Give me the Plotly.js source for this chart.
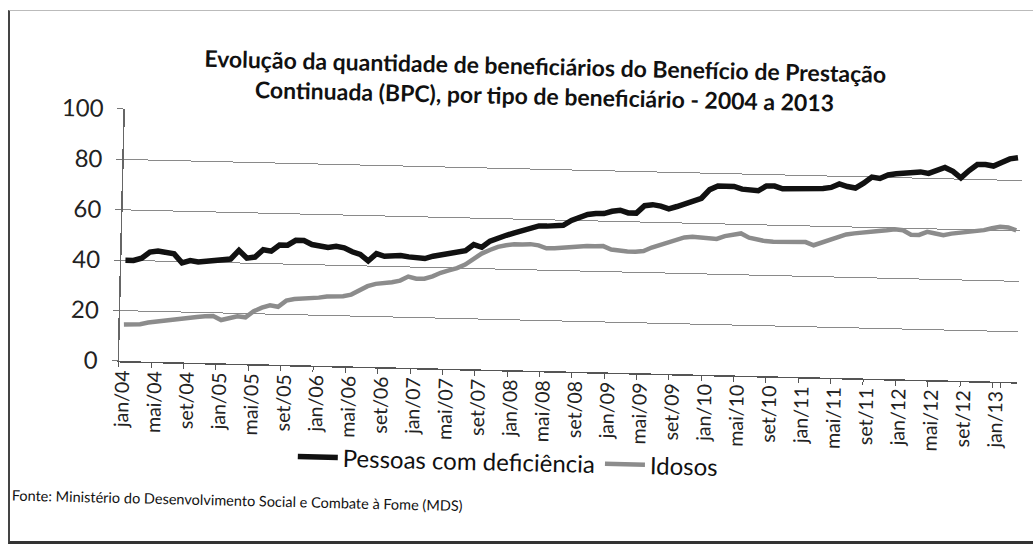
<!DOCTYPE html>
<html><head><meta charset="utf-8">
<script src="https://cdn.plot.ly/plotly-3.0.1.min.js"></script>
<style>
html,body{margin:0;padding:0;background:#fff;overflow:hidden;}
#frame{position:absolute;left:8px;top:10px;width:1040px;height:530px;border-left:2px solid #444;border-bottom:3px solid #333;border-top:1px solid #bbb;}
#chart{position:absolute;left:0;top:0;width:1033px;height:560px;transform-origin:120px 361px;transform:rotate(1.35deg);}
</style></head><body>
<div id="frame"></div>
<div id="chart"></div>
<script>
const monthNames = ['jan','fev','mar','abr','mai','jun','jul','ago','set','out','nov','dez'];
const years = ['04','05','06','07','08','09','10','11','12','13'];
const nMonths = 111; // jan/04 .. mar/13
const categories = [];
for (const y of years) for (const m of monthNames) if (categories.length < nMonths) categories.push(m + '/' + y);

const deficiencia = [40,40,41,43.5,44,43.5,43,39.5,40.5,40,40.5,
  41,41,41.5,45,42,42.5,45.5,45,47.5,47.5,
  49.5,49.5,48,47.5,47,47.5,47,45.5,44.5,42,
  45,44,44.5,44.5,44,43.5,43.5,44.5,45,45.5,
  46.5,47,49.5,48.5,51,52.5,53.5,54.5,55.5,57,
  57.5,57.5,57.5,58,60,61.5,62.5,63,63,64,
  64.5,63.5,63.5,66.5,67,66.5,65.5,66.5,67.5,69,
  70,73.5,75,75,75,74,73.5,73.5,75.5,75.5,
  74.5,74.5,74.5,74.5,74.5,75,75.5,77,76,75.5,
  77.5,80,79.5,81,81.5,82,82.5,82.5,82,83.5,
  84.5,83,80.5,83.5,86,86,85.5,87,88.5,89];

const idosos = [14.5,14.5,14.8,15.5,16,16.5,17,17.5,18,18.2,18.5,
  18.7,17.2,18,18.8,18.5,21,22.5,23.5,23,25.5,
  26.2,26.4,26.6,27,27.5,27.7,27.8,28.5,30.5,32,
  33,33.2,33.8,34.5,36.2,35.4,35.5,36.5,38,39,
  40,41.5,44,46,47.5,48.8,49.5,50,50,50.2,
  49.8,48.7,48.8,49.2,49.5,49.7,50,50,50.1,48.8,
  48.3,48.2,48.2,48.5,50,51,52,53,54.3,54.6,
  54.4,54,54,55.2,55.8,56.4,54.8,54,53.6,53.4,
  53.4,53.5,53.5,53.6,52.4,53.5,55,56,57,57.5,
  58,58.5,58.7,59,59.5,59.2,57.5,57.5,58.8,58.2,
  57.6,58.3,58.7,59.2,59.7,60,60.8,61.5,61.3,60.2];

const tickLabels = categories.filter((c, i) => i % 4 === 0);
const seriesNames = ['Pessoas com deficiência', 'Idosos'];

const font = 'Lato, "Open Sans", sans-serif';
const traces = [
  {x: categories, y: deficiencia, name: seriesNames[0], type: 'scatter', mode: 'lines',
   line: {color: '#111111', width: 5.5}},
  {x: categories, y: idosos, name: seriesNames[1], type: 'scatter', mode: 'lines',
   line: {color: '#8c8c8c', width: 4.5}}
];
const layout = {
  width: 1033, height: 560,
  margin: {l: 119, r: 16, t: 109, b: 199},
  paper_bgcolor: 'rgba(0,0,0,0)', plot_bgcolor: 'rgba(0,0,0,0)',
  font: {family: font, color: '#1a1a1a'},
  title: {text: 'Evolução da quantidade de beneficiários do Benefício de Prestação<br>Continuada (BPC), por tipo de beneficiário - 2004 a 2013',
    font: {family: font, size: 23, color: '#111', weight: 'bold'},
    xref: 'container', x: 0.521, xanchor: 'center', yref: 'container', y: 0.884, yanchor: 'top'},
  xaxis: {type: 'category', range: [-0.5, nMonths - 0.5], tickvals: tickLabels, tickangle: -90,
    tickson: 'boundaries', ticks: 'outside', ticklen: 5, tickcolor: '#555',
    showline: true, linecolor: '#555', linewidth: 1.5, showgrid: false,
    tickfont: {family: font, size: 19.5, color: '#222'}},
  yaxis: {range: [0, 100], dtick: 20, ticks: 'outside', ticklen: 6, tickcolor: '#777',
    showline: true, linecolor: '#666', linewidth: 1.5, gridcolor: '#8a8a8a', gridwidth: 1,
    zeroline: false, ticklabelstandoff: 9, tickfont: {family: font, size: 24, color: '#222'}},
  showlegend: true,
  legend: {orientation: 'h', x: 0.436, xanchor: 'center', y: -0.275, yanchor: 'top',
    font: {family: font, size: 24, color: '#111'}, itemwidth: 40},
  annotations: [{text: 'Fonte: Ministério do Desenvolvimento Social e Combate à Fome (MDS)',
    xref: 'paper', yref: 'paper', x: -0.118, xanchor: 'left', y: -0.542, yanchor: 'middle',
    showarrow: false, font: {family: font, size: 14.5, color: '#111'}}]
};
Plotly.newPlot('chart', traces, layout, {displayModeBar: false, staticPlot: true});
</script></body></html>
